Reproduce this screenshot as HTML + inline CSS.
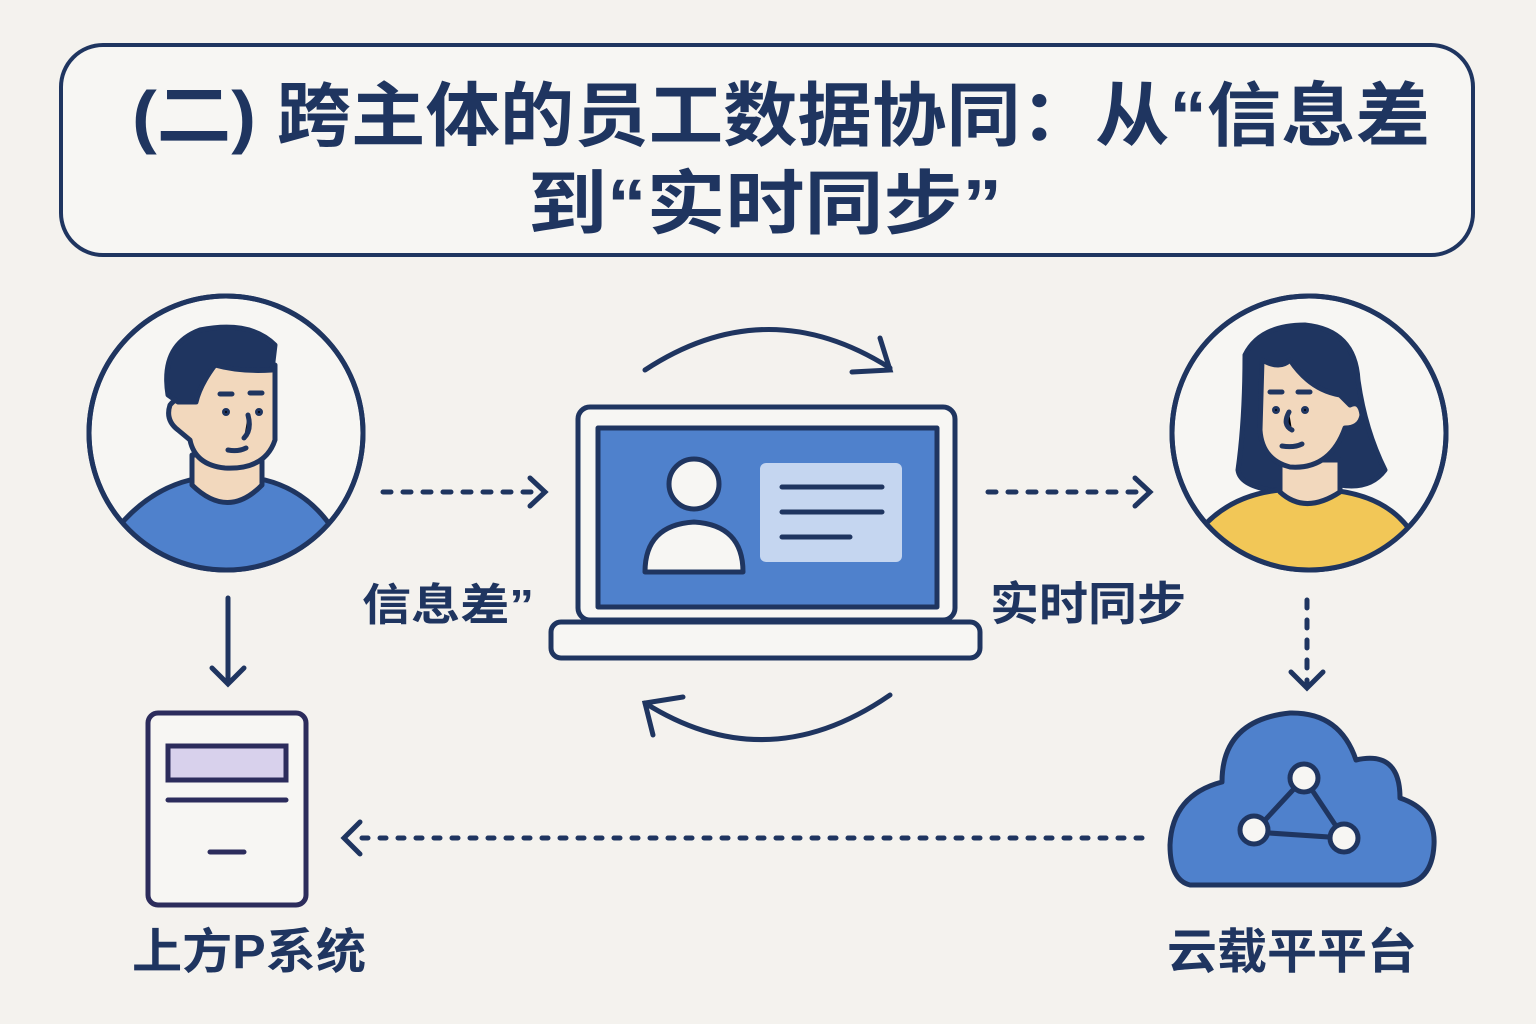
<!DOCTYPE html>
<html><head><meta charset="utf-8"><style>
html,body{margin:0;padding:0;background:#f4f2ee;}
svg{display:block}
text{font-family:"Liberation Sans","Noto Sans CJK SC",sans-serif;font-weight:bold;fill:#1f3560}
</style></head><body>
<svg width="1536" height="1024" viewBox="0 0 1536 1024" xmlns="http://www.w3.org/2000/svg">
<rect width="1536" height="1024" fill="#f4f2ee"/>
<rect x="61" y="45" width="1412" height="210" rx="42" fill="#f7f6f3" stroke="#1f3560" stroke-width="4"/>
<text x="132" y="140" font-size="70" textLength="1298" lengthAdjust="spacingAndGlyphs">(二) 跨主体的员工数据协同：从“信息差</text>
<text x="528" y="228" font-size="70" textLength="474" lengthAdjust="spacingAndGlyphs">到“实时同步”</text>

<g stroke="#1f3560" stroke-width="5" stroke-linecap="round" stroke-linejoin="round">
<circle cx="226" cy="433" r="137" fill="#f7f6f3"/>
<clipPath id="c1"><circle cx="226" cy="433" r="135"/></clipPath>
<g clip-path="url(#c1)">
<path d="M120 525 Q150 490 190 480 L265 480 Q305 490 330 525 L330 580 L120 580Z" fill="#4f81cc"/>
<path d="M192 455 L192 485 Q228 520 262 485 L262 455Z" fill="#f2d8bd"/>
<path d="M190 360 Q240 350 275 365 L275 440 Q265 470 225 468 Q195 465 190 440 L178 430 Q165 420 170 405 Q178 395 190 400Z" fill="#f2d8bd"/>
<path d="M168 395 Q160 345 200 330 Q250 320 275 345 L272 370 Q240 372 215 365 Q200 385 196 402 L178 402Z" fill="#1f3560"/>
<path d="M220 394 L232 394 M250 393 L262 393 M248 415 Q252 430 244 438 M228 450 Q238 452 246 448"/>
</g>
<circle cx="226" cy="433" r="137" fill="none"/>
<circle cx="226" cy="412" r="1.5"/><circle cx="259" cy="412" r="1.5"/>

<circle cx="1309" cy="433" r="137" fill="#f7f6f3"/>
<clipPath id="c2"><circle cx="1309" cy="433" r="135"/></clipPath>
<g clip-path="url(#c2)">
<path d="M1245 355 Q1260 325 1305 325 Q1355 330 1358 380 Q1365 430 1385 470 Q1370 490 1340 485 L1270 490 Q1240 485 1238 470 Q1245 420 1245 355Z" fill="#1f3560"/>
<path d="M1200 530 Q1230 495 1280 490 L1330 490 Q1385 495 1410 530 L1410 580 L1200 580Z" fill="#f2c757"/>
<path d="M1280 460 L1280 492 Q1305 515 1340 492 L1340 460Z" fill="#f2d8bd"/>
<path d="M1262 360 Q1280 370 1290 360 Q1310 390 1340 395 L1350 405 Q1360 400 1362 415 Q1360 428 1345 428 Q1330 470 1290 467 Q1262 460 1260 430Z" fill="#f2d8bd"/>
<path d="M1270 392 L1282 392 M1298 392 L1310 392 M1289 412 Q1282 425 1292 430 M1282 446 Q1294 448 1302 444"/>
</g>
<circle cx="1309" cy="433" r="137" fill="none"/>
<circle cx="1276" cy="410" r="1.5"/><circle cx="1305" cy="410" r="1.5"/>

<rect x="578" y="407" width="377" height="213" rx="12" fill="#f7f6f3"/>
<rect x="598" y="428" width="339" height="179" fill="#4f81cc"/>
<rect x="551" y="622" width="429" height="36" rx="10" fill="#f7f6f3"/>
<circle cx="694" cy="484" r="25" fill="#f7f6f3" stroke-width="5"/>
<path d="M645 572 Q645 525 694 522 Q743 525 743 572Z" fill="#f7f6f3"/>
</g>
<rect x="760" y="463" width="142" height="99" rx="6" fill="#c5d6f0"/>
<g stroke="#1f3560" stroke-width="5" stroke-linecap="round" fill="none">
<path d="M782 487 H882 M782 512 H882 M782 537 H850"/>
<path d="M645 370 Q767 290 890 368"/>
<path d="M852 372 L890 370 L880 338"/>
<path d="M890 695 Q767 780 645 703"/>
<path d="M683 697 L645 703 L653 735"/>
<path d="M383 492 H540" stroke-dasharray="8 12"/>
<path d="M530 478 L545 492 L530 506"/>
<path d="M988 492 H1145" stroke-dasharray="8 12"/>
<path d="M1135 478 L1150 492 L1135 506"/>
<path d="M228 598 V682"/>
<path d="M212 668 L228 684 L244 668"/>
<path d="M1307 600 V684" stroke-dasharray="8 12"/>
<path d="M1291 672 L1307 688 L1323 672"/>
<path d="M1142 838 H355" stroke-dasharray="6 12"/>
<path d="M360 822 L344 838 L360 854"/>
</g>
<g stroke="#2c2c5c" stroke-width="5" stroke-linecap="round">
<rect x="148" y="713" width="158" height="192" rx="10" fill="#f7f6f3"/>
<rect x="168" y="746" width="118" height="34" fill="#d8d1ec"/>
<path d="M168 800 H286 M210 852 H244"/>
</g>
<path d="M1190 885 Q1170 880 1170 845 Q1172 795 1222 782 Q1222 720 1290 713 Q1340 712 1356 760 Q1400 750 1400 798 Q1436 810 1434 845 Q1432 883 1400 885Z" fill="#4f81cc" stroke="#1f3560" stroke-width="5" stroke-linejoin="round"/>
<g stroke="#1f3560" stroke-width="5" fill="#f7f6f3">
<path d="M1304 778 L1254 832 L1344 838Z" fill="none"/>
<circle cx="1304" cy="778" r="14"/><circle cx="1254" cy="830" r="14"/><circle cx="1344" cy="838" r="14"/>
</g>
<text x="362" y="620" font-size="44" textLength="172" lengthAdjust="spacingAndGlyphs">信息差”</text>
<text x="990" y="620" font-size="46" textLength="196" lengthAdjust="spacingAndGlyphs">实时同步</text>
<text x="132" y="968" font-size="48" textLength="234" lengthAdjust="spacingAndGlyphs">上方P系统</text>
<text x="1167" y="968" font-size="48" textLength="250" lengthAdjust="spacingAndGlyphs">云载平平台</text>
</svg>
</body></html>
